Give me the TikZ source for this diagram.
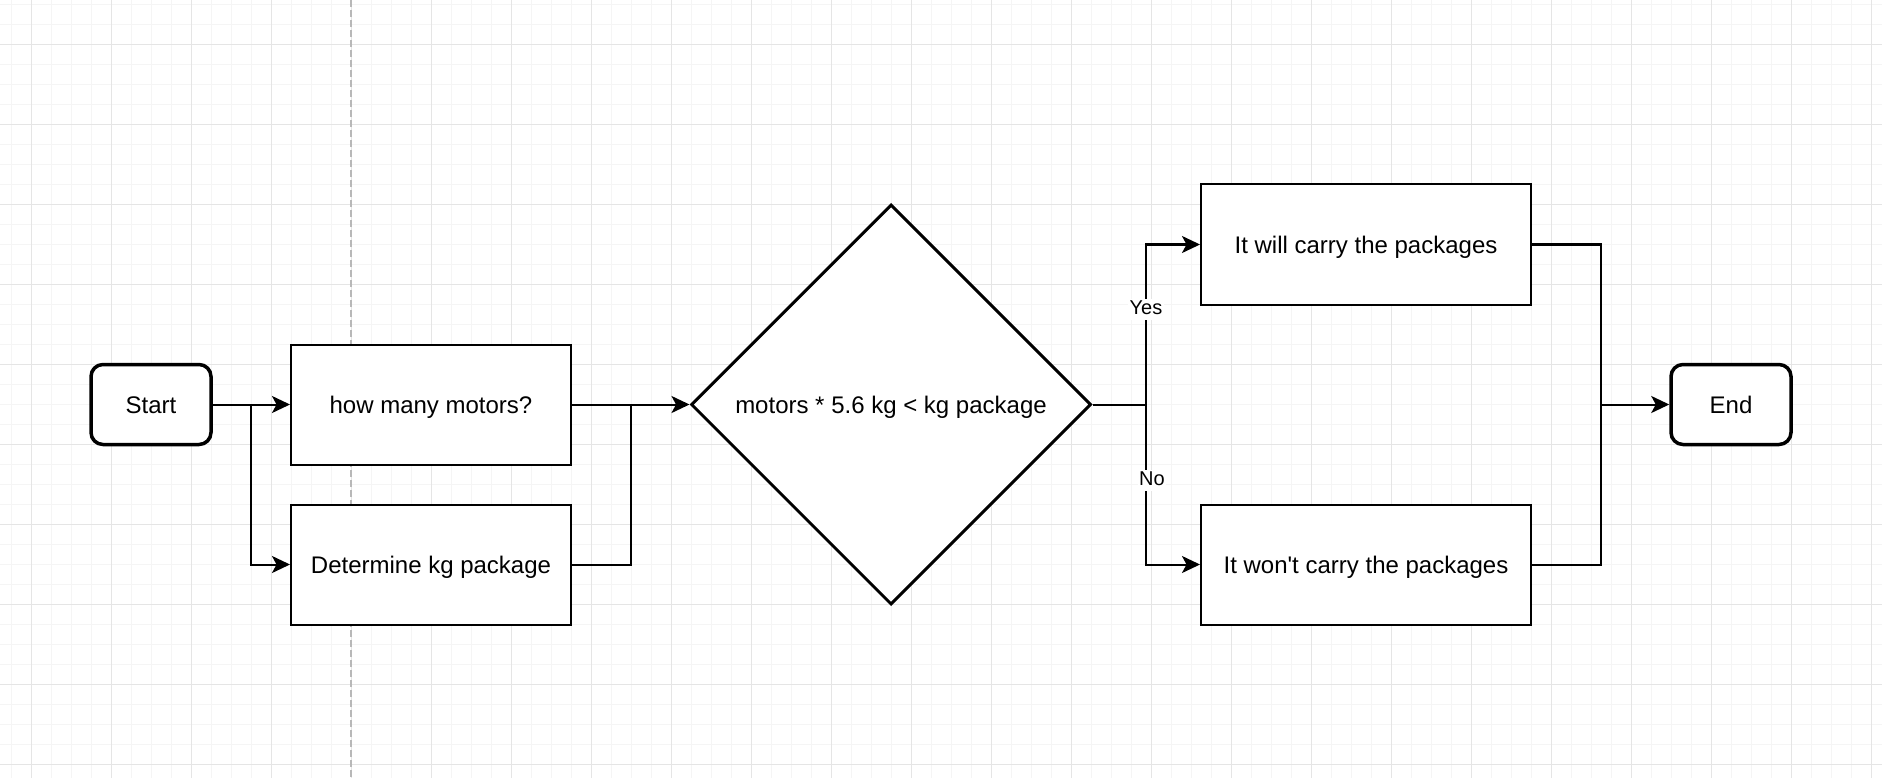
\documentclass[tikz,border=0pt]{standalone}
\usepackage{fontspec}
\setmainfont{Liberation Sans}
\newfontfamily\diagfont{Liberation Sans}
\usetikzlibrary{arrows.meta,shapes.geometric}
\begin{document}
\begin{tikzpicture}[x=1pt,y=-1pt,
  minorgrid/.style={draw=black!4, line width=1pt},
  majorgrid/.style={draw=black!10, line width=1pt},
  guide/.style={draw=black!28, line width=1.5pt, dash pattern=on 7pt off 3pt},
  txt/.style={font=\diagfont\fontsize{24}{28}\selectfont, text height=17pt, text depth=0pt},
  box/.style={txt, draw=black, fill=white, line width=2pt, minimum width=280pt, minimum height=120pt, inner sep=0pt},
  widebox/.style={box, minimum width=330pt},
  term/.style={txt, draw=black, fill=white, line width=3.5pt, rounded corners=12pt, minimum width=120pt, minimum height=80pt, inner sep=0pt},
  dec/.style={txt, diamond, aspect=1, draw=black, fill=white, line width=3pt, minimum width=400pt, minimum height=400pt, inner sep=0pt},
  wire/.style={draw=black, line width=2pt},
  conn/.style={wire, -{Stealth[length=18pt,width=17pt,inset=4.5pt]}},
  lbl/.style={fill=white, inner sep=1.5pt, font=\diagfont\fontsize{20}{24}\selectfont, text height=14pt, text depth=4pt}
]
\useasboundingbox (0,0) rectangle (1882,778);
\fill[white] (0,0) rectangle (1882,778);
% grid
\foreach \x in {11,31,...,1881} \draw[minorgrid] (\x,0) -- (\x,778);
\foreach \y in {4.5,24.5,...,778} \draw[minorgrid] (0,\y) -- (1882,\y);
\foreach \x in {31,111,...,1881} \draw[majorgrid] (\x,0) -- (\x,778);
\foreach \y in {44.5,124.5,...,778} \draw[majorgrid] (0,\y) -- (1882,\y);
\draw[guide] (351,0) -- (351,778);

% nodes
\node[term] (start) at (151,404.5) {Start};
\node[box] (how) at (431,404.5) {how many motors?};
\node[box] (det) at (431,564.5) {Determine kg package};
\node[dec] (dia) at (891,404.5) {motors * 5.6 kg < kg package};
\node[widebox] (will) at (1366,244.5) {It will carry the packages};
\node[widebox] (wont) at (1366,564.5) {It won't carry the packages};
\node[term] (end) at (1731,404.5) {End};

\coordinate (j1) at (251,404.5);
\coordinate (j2) at (631,404.5);
\coordinate (j3) at (1146,404.5);
\coordinate (j4) at (1601,404.5);

% connectors
\draw[conn] (start.east) -- (how.west);
\draw[conn] (j1) |- (det.west);
\draw[conn] (how.east) -- (dia.west);
\draw[wire] (det.east) -| (j2);
\draw[wire] (dia.east) -- (j3);
\draw[conn] (j3) |- (will.west);
\draw[conn] (j3) |- (wont.west);
\draw[wire] (will.east) -| (j4);
\draw[wire] (wont.east) -| (j4);
\draw[conn] (j4) -- (end.west);

\node[lbl] (yes) at (1146,309) {Yes};
\node[lbl] (no) at (1152,480) {No};
\end{tikzpicture}
\end{document}
